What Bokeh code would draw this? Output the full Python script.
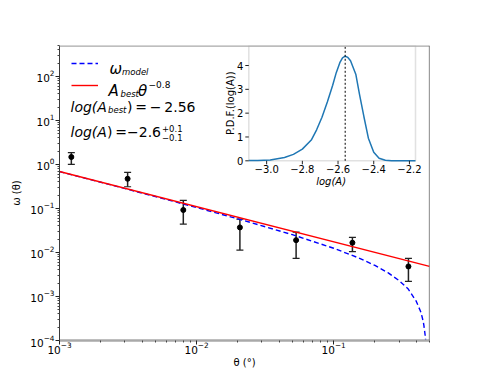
import math
from bokeh.plotting import figure
from bokeh.models import (Whisker, TeeHead, ColumnDataSource, Legend, LegendItem,
                          Label, Span, FixedTicker, Range1d, LinearScale,
                          BoxAnnotation)
from bokeh.core.properties import value
from bokeh.embed import file_html
from bokeh.resources import INLINE

# ---------------- data ----------------
theta_obs = [0.00122, 0.00314, 0.0080, 0.0207, 0.0532, 0.137, 0.351]
w_obs = [1.47, 0.47, 0.092, 0.037, 0.019, 0.0166, 0.0048]
w_hi = [1.85, 0.66, 0.152, 0.057, 0.029, 0.022, 0.0073]
w_lo = [1.00, 0.31, 0.044, 0.0113, 0.0073, 0.0104, 0.0022]

theta_model = [0.001, 0.002, 0.005, 0.01, 0.02, 0.05, 0.1, 0.15, 0.2, 0.25,
               0.3, 0.35, 0.4, 0.43, 0.44, 0.45, 0.455, 0.46, 0.465, 0.47, 0.475]
w_model = [0.686, 0.392, 0.186, 0.1046, 0.058, 0.0253, 0.01245, 0.00764, 0.00506,
           0.00344, 0.0023, 0.00147, 0.00078, 0.00046, 0.00036, 0.00027, 0.00022,
           0.00017, 0.00013, 0.000095, 0.00006]

theta_pow = [0.001, 0.5]
w_pow = [0.69, 0.00481]

logA_grid = [-3.10, -3.05, -2.98, -2.90, -2.85, -2.80, -2.75, -2.72, -2.69, -2.66,
             -2.63, -2.61, -2.59, -2.575, -2.56, -2.545, -2.53, -2.50, -2.48,
             -2.455, -2.43, -2.40, -2.37, -2.335, -2.30, -2.25, -2.166]
pdf_vals = [0.01, 0.015, 0.03, 0.14, 0.27, 0.49, 0.87, 1.30, 1.83, 2.47,
            3.17, 3.70, 4.12, 4.32, 4.39, 4.34, 4.20, 3.62, 2.80,
            1.85, 0.95, 0.36, 0.11, 0.02, 0.005, 0.0, 0.0]
logA_best = -2.56

x_major_exp = [-3, -2, -1]
y_major_exp = [-4, -3, -2, -1, 0, 1, 2]
inset_xticks = [-3.0, -2.8, -2.6, -2.4, -2.2]
inset_xlabels = ["\u22123.0", "\u22122.8", "\u22122.6", "\u22122.4", "\u22122.2"]
inset_yticks = [0, 1, 2, 3, 4]
inset_ylabels = ["0", "1", "2", "3", "4"]

# axis limits
X_MAIN = (1e-3, 0.5)
Y_MAIN = (1e-4, 500)
X_INSET = (-3.10, -2.166)
Y_INSET = (0.0, 4.84)

FONT = "DejaVu Sans"

# ---------------- layout geometry (page pixels, page has no margin) -------------
FL, FR, FT, FB = 59, 429, 45, 340          # main frame
IL, IR, IT, IB = 248.3, 415.0, 45.0, 160.3  # inset box
W, H = 470, 375

p = figure(width=W, height=H, x_axis_type="log", y_axis_type="log",
           x_range=Range1d(*X_MAIN), y_range=Range1d(*Y_MAIN),
           output_backend="svg", toolbar_location=None,
           min_border_left=FL, min_border_right=W - FR,
           min_border_top=FT, min_border_bottom=H - FB)
p.background_fill_color = "white"
p.border_fill_color = "white"
p.grid.visible = False
p.outline_line_color = None

def minors(exps):
    return [m * 10.0 ** e for e in exps for m in range(2, 10)]

p.xaxis.ticker = FixedTicker(ticks=[10.0 ** e for e in x_major_exp],
                             minor_ticks=minors(x_major_exp))
p.yaxis.ticker = FixedTicker(ticks=[10.0 ** e for e in y_major_exp],
                             minor_ticks=minors(y_major_exp))
for ax in (p.xaxis[0], p.yaxis[0]):
    ax.major_label_text_font = FONT
    ax.major_label_text_font_size = "10.5px"
    ax.major_label_text_color = "black"
    ax.major_tick_in = 0
    ax.major_tick_out = 4
    ax.minor_tick_in = 0
    ax.minor_tick_out = 2
    ax.major_tick_line_color = "#222222"
    ax.minor_tick_line_color = "#444444"
    ax.axis_label_text_font = FONT
    ax.axis_label_text_font_size = "10px"
    ax.axis_label_text_font_style = "normal"
    ax.axis_label_text_color = "black"
p.xaxis.axis_line_color = "#a9a9a9"
p.xaxis.axis_line_width = 2.5
p.yaxis.axis_line_color = "#3a3a3a"
p.yaxis.axis_line_width = 1
p.xaxis.axis_label = "\u03b8 (\u00b0)"
p.yaxis.axis_label = "\u03c9 (\u03b8)"
p.xaxis.major_label_standoff = -3
p.xaxis.axis_label_standoff = 0
p.yaxis.major_label_standoff = 1
p.yaxis.axis_label_standoff = 5

# top and right spines
p.add_layout(Span(location=Y_MAIN[1], dimension="width", line_color="#a9a9a9",
                  line_width=2.5))
p.add_layout(Span(location=X_MAIN[1], dimension="height", line_color="#3a3a3a",
                  line_width=1.2))

r_model = p.line(theta_model, w_model, line_color="blue", line_dash="5 3",
                 line_width=1.4)
r_pow = p.line(theta_pow, w_pow, line_color="red", line_width=1.4)

src = ColumnDataSource(dict(x=theta_obs, y=w_obs, hi=w_hi, lo=w_lo))
p.add_layout(Whisker(source=src, base="x", upper="hi", lower="lo",
                     dimension="height", line_color="#222222", line_width=1.5,
                     upper_head=TeeHead(size=7, line_color="#222222", line_width=1.2),
                     lower_head=TeeHead(size=7, line_color="#222222", line_width=1.2)))
p.scatter("x", "y", source=src, size=5, color="black")

legend = Legend(items=[LegendItem(label=" ", renderers=[r_model]),
                       LegendItem(label=" ", renderers=[r_pow])],
                location=(71 - FL, FB - 96), border_line_color=None,
                background_fill_alpha=0, glyph_width=27, glyph_height=22,
                label_height=22, spacing=0, padding=0, margin=0,
                label_text_font_size="1px")
p.add_layout(legend)

def lab(text, px, py, size, style="italic", angle=0.0, align="left",
        baseline="alphabetic"):
    p.add_layout(Label(x=px - FL, y=FB - py, x_units="screen", y_units="screen",
                       text=text, text_font=FONT, text_font_size=f"{size}px",
                       text_font_style=style, text_baseline=baseline,
                       text_align=align, text_color="black", angle=angle))

lab("\u03c9", 109, 68, 15)
lab("model", 121.5, 71.5, 8.5)
lab("A", 108, 90, 15)
lab("best", 120, 93.5, 8.5)
lab("\u03b8", 137.5, 90, 15)
lab("\u22120.8", 148, 83.5, 9, "normal")
lab("log(A", 70, 106, 14)
lab("best", 107.5, 109.5, 8.5)
lab(")\u2009=\u2009\u2212\u20092.56", 126.5, 106, 14, "normal")
lab("log(A", 70, 131, 14)
lab(")\u2009=\u22122.6", 106.5, 131, 14, "normal")
lab("+0.1", 161.5, 128, 8.5, "normal")
lab("\u22120.1", 161.5, 137, 8.5, "normal")

# ---------------- inset drawn on its own linear scales ----------------
ux = (X_INSET[1] - X_INSET[0]) / (IR - IL)
uy = (Y_INSET[1] - Y_INSET[0]) / (IB - IT)
p.extra_x_ranges = {"ix": Range1d(X_INSET[0] - (IL - FL) * ux,
                                  X_INSET[1] + (FR - IR) * ux)}
p.extra_y_ranges = {"iy": Range1d(Y_INSET[0] - (FB - IB) * uy,
                                  Y_INSET[1] + (IT - FT) * uy)}
p.extra_x_scales = {"ix": LinearScale()}
p.extra_y_scales = {"iy": LinearScale()}
kw = dict(x_range_name="ix", y_range_name="iy")

p.add_layout(BoxAnnotation(left=X_INSET[0], right=X_INSET[1], bottom=Y_INSET[0],
                           top=Y_INSET[1], fill_color="white", fill_alpha=1.0,
                           line_color="#9a9a9a", line_width=1.5, level="underlay",
                           **kw))
p.line(logA_grid, pdf_vals, line_color="#1f77b4", line_width=1.5, **kw)
p.segment(x0=[logA_best], y0=[Y_INSET[0]], x1=[logA_best], y1=[Y_INSET[1]],
          line_color="black", line_dash="2 2", line_width=1, **kw)

p.ray(x=inset_xticks, y=[Y_INSET[0]] * len(inset_xticks), length=3.5,
      length_units="screen", angle=-math.pi / 2, line_color="#222222",
      line_width=1, **kw)
p.ray(x=[X_INSET[0]] * len(inset_yticks), y=inset_yticks, length=3.5,
      length_units="screen", angle=math.pi, line_color="#222222",
      line_width=1, **kw)
p.text(x=inset_xticks, y=[Y_INSET[0]] * len(inset_xticks), text=inset_xlabels,
       y_offset=4, text_align="center", text_baseline="top",
       text_font=value(FONT), text_font_size="10px", text_color="black", **kw)
p.text(x=[X_INSET[0]] * len(inset_yticks), y=inset_yticks, text=inset_ylabels,
       x_offset=-5.5, text_align="right", text_baseline="middle",
       text_font=value(FONT), text_font_size="10px", text_color="black", **kw)

lab("log(A)", (IL + IR) / 2 - 1, 181, 10, "italic", align="center",
    baseline="middle")
lab("P.D.F.(log(A))", 229.5, (IT + IB) / 2, 10, "normal", angle=math.pi / 2,
    align="center", baseline="middle")

open("out.html", "w").write(file_html(p, INLINE))
